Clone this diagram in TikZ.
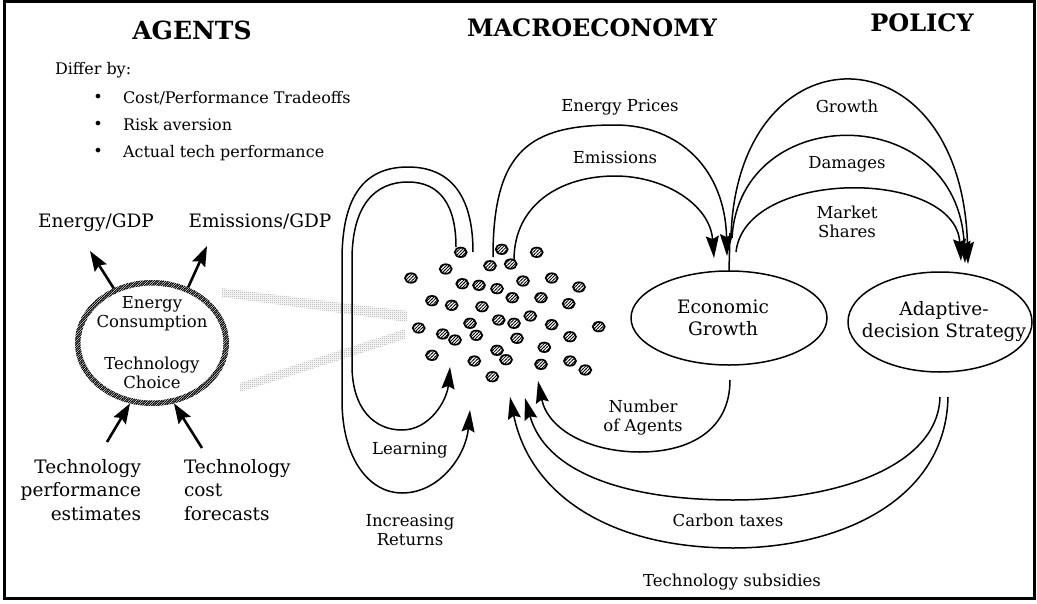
\documentclass[tikz,border=0pt]{standalone}
\usepackage{fontspec}
\setmainfont{DejaVu Serif}
\usetikzlibrary{arrows.meta,patterns,shapes.geometric}
\pgfdeclarepatternformonly{ringhatch}{\pgfqpoint{-1pt}{-1pt}}{\pgfqpoint{3.5pt}{3.5pt}}{\pgfqpoint{2.4pt}{2.4pt}}{\pgfsetlinewidth{0.9pt}\pgfpathmoveto{\pgfqpoint{-0.5pt}{-0.5pt}}\pgfpathlineto{\pgfqpoint{2.9pt}{2.9pt}}\pgfusepath{stroke}}
\pgfdeclarepatternformonly{dothatch}{\pgfqpoint{-1pt}{-1pt}}{\pgfqpoint{4.5pt}{4.5pt}}{\pgfqpoint{3.2pt}{3.2pt}}{\pgfsetlinewidth{0.75pt}\pgfpathmoveto{\pgfqpoint{-0.5pt}{-0.5pt}}\pgfpathlineto{\pgfqpoint{3.7pt}{3.7pt}}\pgfusepath{stroke}}
\pgfdeclarepatternformonly{stipple}{\pgfqpoint{0pt}{0pt}}{\pgfqpoint{2pt}{2pt}}{\pgfqpoint{2pt}{2pt}}{\pgfpathrectangle{\pgfqpoint{0pt}{0pt}}{\pgfqpoint{1pt}{1pt}}\pgfpathrectangle{\pgfqpoint{1pt}{1pt}}{\pgfqpoint{1pt}{1pt}}\pgfusepath{fill}}
\begin{document}
\begin{tikzpicture}[x=1pt,y=-1pt,
  every node/.style={inner sep=0pt, outer sep=0pt},
  head/.style={font=\fontsize{25}{30}\selectfont\bfseries, anchor=base},
  txt/.style={font=\fontsize{16}{19}\selectfont},
  lbl/.style={font=\fontsize{16.5}{19}\selectfont, align=center},
  big/.style={font=\fontsize{18.5}{23.5}\selectfont},
  mid/.style={font=\fontsize{16.5}{19}\selectfont, align=center},
  oval/.style={ellipse, draw, line width=1.5pt, inner sep=0pt},
  ovaltext/.style={align=center, font=\fontsize{18.5}{22}\selectfont},
  dot/.style={ellipse, draw, line width=1.7pt, minimum width=12pt, minimum height=9.5pt, inner sep=0pt, pattern=dothatch},
  plain/.style={line width=1.5pt},
  flow/.style={line width=1.5pt, -{Stealth[length=22pt,width=13pt,inset=3pt]}},
  agentarr/.style={line width=2.6pt, -{Stealth[length=20pt,width=14pt,inset=3pt]}}
]
\useasboundingbox (0,0) rectangle (1037,603);
\draw[line width=3pt] (4.5,1.5) rectangle (1034.5,598);

% headings
\node[head] (hA) at (192,39) {AGENTS};
\node[head, font=\fontsize{24}{29}\selectfont\bfseries] (hM) at (592,36) {MACROECONOMY};
\node[head, font=\fontsize{24}{29}\selectfont\bfseries] (hP) at (922,31) {POLICY};

% agents text
\node[txt, anchor=base west] (differ) at (55,74) {Differ by:};
\node[txt] (bu1) at (98,98) {\textbullet};
\node[txt] (bu2) at (98,125) {\textbullet};
\node[txt] (bu3) at (98,152) {\textbullet};
\node[txt, anchor=base west] (it1) at (123,103) {Cost/Performance Tradeoffs};
\node[txt, anchor=base west] (it2) at (123,130) {Risk aversion};
\node[txt, anchor=base west] (it3) at (123,157) {Actual tech performance};

\node[big, anchor=base] (egdp) at (96,227) {Energy/GDP};
\node[big, anchor=base] (emgdp) at (260,227) {Emissions/GDP};

% gray bands
\fill[pattern=stipple, pattern color=gray!75] (222,288) -- (407,311) -- (407,322) -- (222,297) -- cycle;
\fill[pattern=stipple, pattern color=gray!75] (240,383) -- (405,329) -- (405,339) -- (240,392) -- cycle;

% ring
\node[ellipse, minimum width=154pt, minimum height=126pt, inner sep=0pt] (ring) at (152,343) {};
\fill[pattern=ringhatch, even odd rule] (152,343) ellipse [x radius=77pt, y radius=63pt] (152,343) ellipse [x radius=71.5pt, y radius=57.5pt];
\node[mid] (rt1) at (152,314) {Energy\\Consumption};
\node[mid] (rt2) at (152,373) {Technology\\Choice};

\coordinate (egdpTip) at (90,251);
\coordinate (emgdpTip) at (207,246);
\coordinate (tpeTail) at (107,442);
\coordinate (tcfTail) at (202,448);
\draw[agentarr] (ring.125) -- (egdpTip);
\draw[agentarr] (ring.57) -- (emgdpTip);
\draw[agentarr] (tpeTail) -- (ring.250);
\draw[agentarr] (tcfTail) -- (ring.290);

\node[big, align=right, anchor=north east] (tpe) at (141,459) {Technology\\performance\\estimates};
\node[big, align=left, anchor=north west] (tcf) at (184,459) {Technology\\cost\\forecasts};

% dots
\foreach \x/\y [count=\i] in {460.7/252.3, 501.7/249.3, 536.7/252.3, 445.7/269, 490/265.7, 510.7/264,
  411/278, 462.3/283.7, 479/285.3, 497/288.7, 523/281, 551.7/278, 579/287,
  432/300.7, 451.7/305.3, 482/306.7, 512.3/297.7, 541/297.7, 568.7/303.7,
  470/323.3, 498.7/320, 514/323.3, 530.3/316, 551.7/324.7, 598.7/326.7,
  418.7/328, 442.7/334, 455/340, 476.3/335.3, 517/338.3, 570/336.7, 544.3/347.3,
  432/355.3, 497/350.3, 506/359.7, 474.3/361, 541/364.3, 570/361, 585.3/370, 492.3/376.7}
  \node[dot] (d\i) at (\x,\y) {};

% ellipses
\node[oval, minimum width=196pt, minimum height=94pt] (EG) at (729,318) {};
\node[ovaltext] (EGt) at (723,318) {Economic\\Growth};
\node[oval, minimum width=184pt, minimum height=100pt] (AS) at (940,322) {};
\node[ovaltext] (ASt) at (944,322) {Adaptive-\\decision Strategy};

% learning loops
\coordinate (leStart) at (456,247);
\coordinate (leTip) at (450,367);
\coordinate (irStart) at (473,252);
\coordinate (irTip) at (470,410);
\draw[flow] (leStart) .. controls (456,205) and (440,182) .. (408,182)
  .. controls (375,182) and (352,205) .. (352,260) -- (352,365)
  .. controls (352,410) and (375,430) .. (402,430)
  .. controls (430,430) and (447,400) .. (leTip);
\draw[flow] (irStart) .. controls (473,195) and (450,167) .. (408,167)
  .. controls (365,167) and (342,195) .. (342,260) -- (342,400)
  .. controls (342,460) and (370,493) .. (402,493)
  .. controls (440,493) and (466,455) .. (irTip);
\node[lbl] (lLe) at (410,450) {Learning};
\node[lbl] (lIR) at (410,530) {Increasing\\Returns};

% arcs into economic growth
\coordinate (epStart) at (493,257);
\coordinate (epTip) at (727,256);
\coordinate (emStart) at (514,260);
\coordinate (emTip) at (714,258);
\draw[flow] (epStart) .. controls (493,150) and (530,125) .. (615,125)
  .. controls (680,125) and (725,170) .. (epTip);
\draw[flow] (emStart) .. controls (514,205) and (560,176) .. (615,176)
  .. controls (665,176) and (710,205) .. (emTip);
\node[lbl] (lEP) at (620,107) {Energy Prices};
\node[lbl] (lEm) at (615,158) {Emissions};

% stem and arcs into policy
\coordinate (stem) at (730,233);
\draw[plain] (EG.north) -- (stem);
\coordinate (grStart) at (731,236);
\coordinate (daStart) at (732,238);
\coordinate (msStart) at (736,252);
\coordinate (grTip) at (968,264);
\coordinate (daTip) at (965,263);
\coordinate (msTip) at (961,261);
\draw[flow] (grStart) .. controls (738,25) and (962,25) .. (grTip);
\draw[flow] (daStart) .. controls (740,100) and (958,100) .. (daTip);
\draw[flow] (msStart) .. controls (745,168) and (955,168) .. (msTip);
\node[lbl] (lGr) at (847,106) {Growth};
\node[lbl] (lDa) at (847,164) {Damages};
\node[lbl] (lMS) at (847,222) {Market\\Shares};

% number of agents
\coordinate (naStart) at (730,380);
\coordinate (naTip) at (538,381);
\draw[flow] (naStart) .. controls (730,430) and (690,452) .. (640,452)
  .. controls (590,452) and (548,430) .. (naTip);
\node[lbl] (lNA) at (643,418) {Number\\of Agents};

% policy feedback
\coordinate (ctStart) at (940,397);
\coordinate (ctTip) at (525,398);
\coordinate (tsStart) at (948,397);
\coordinate (tsTip) at (510,397);
\draw[flow] (ctStart) .. controls (938,465) and (840,500) .. (733,500)
  .. controls (620,500) and (545,470) .. (ctTip);
\draw[flow] (tsStart) .. controls (946,500) and (840,548) .. (733,548)
  .. controls (610,548) and (530,495) .. (tsTip);
\node[lbl] (lCT) at (728,520) {Carbon taxes};
\node[lbl] (lTS) at (732,582) {Technology subsidies};
\end{tikzpicture}
\end{document}
